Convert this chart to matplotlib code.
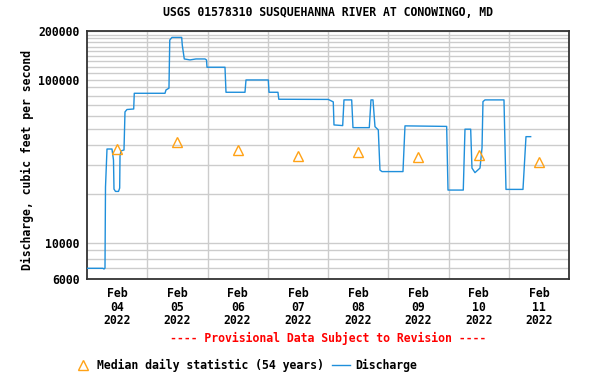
import numpy as np
import matplotlib
matplotlib.use("Agg")
import matplotlib.pyplot as plt
import matplotlib.dates as mdates
from matplotlib.ticker import FixedLocator, NullFormatter

# ---- data ----
start = np.datetime64("2022-02-04T00:00")

# discharge: hours since Feb 04 00:00 and cfs
q_hours = [0.0, 6.37, 6.77, 7.17, 7.37, 7.97, 9.96, 10.56, 10.76, 11.35, 12.55, 13.03,
           13.15, 13.54, 14.74, 15.14, 15.93, 18.60, 18.84, 31.07, 31.47, 32.66, 32.98,
           33.86, 37.72, 37.96, 38.76, 41.03, 43.42, 47.00, 47.60, 47.80, 54.97, 55.37,
           62.94, 63.34, 72.22, 72.50, 76.08, 76.40, 96.12, 98.11, 98.39, 101.86, 102.37,
           105.44, 105.96, 112.45, 113.13, 113.93, 114.72, 116.04, 116.71, 117.51, 125.88,
           126.67, 143.28, 143.80, 149.89, 150.57, 152.84, 153.36, 154.56, 156.55, 157.35,
           157.74, 158.54, 166.11, 166.91, 173.68, 174.87, 176.74]
q_values = [6980, 6980, 6910, 7000, 22000, 37700, 37700, 32300, 21400, 20700, 20700, 21700,
            34200, 36700, 37200, 63700, 65900, 66400, 82900, 82900, 86900, 89100, 176000,
            182700, 182700, 164000, 134700, 132900, 134700, 134700, 132900, 119800, 119800, 84100,
            84100, 100100, 100100, 84100, 84100, 76200, 76000, 73400, 53000, 52500, 75500,
            75500, 51000, 51000, 75500, 75500, 51700, 49400, 28000, 27400, 27400,
            52300, 51900, 21100, 21100, 49900, 49900, 28800, 27000, 28800, 38300,
            73700, 75500, 75500, 21300, 21300, 44900, 44900]

# median daily statistic, one per day (plotted at noon)
med_days = ["2022-02-04", "2022-02-05", "2022-02-06", "2022-02-07",
            "2022-02-08", "2022-02-09", "2022-02-10", "2022-02-11"]
med_values = [37600, 41800, 37200, 34300, 36300, 33600, 34800, 31300]

tick_labels = ["Feb\n04\n2022", "Feb\n05\n2022", "Feb\n06\n2022", "Feb\n07\n2022",
               "Feb\n08\n2022", "Feb\n09\n2022", "Feb\n10\n2022", "Feb\n11\n2022"]
y_major = [6000, 10000, 100000, 200000]
y_major_labels = ["6000", "10000", "100000", "200000"]

# ---- figure ----
FONT = "DejaVu Sans Mono"
FS = 8.3
W, H = 615, 379
fig = plt.figure(figsize=(W / 100, H / 100), dpi=100)
ax = fig.add_axes([87 / W, (H - 279) / H, 482 / W, 248 / H])

q_times = start + (np.array(q_hours) * 60).astype("timedelta64[m]")
med_times = np.array(med_days, dtype="datetime64[m]") + np.timedelta64(12 * 60, "m")

line_color = "#1f8fdb"
tri_color = "#ffa216"
ax.plot(q_times, q_values, color=line_color, lw=1.0, label="Discharge", zorder=3)
ax.plot(med_times, med_values, linestyle="none", marker="^", markersize=7,
        markerfacecolor="none", markeredgecolor=tri_color, markeredgewidth=1.0,
        label="Median daily statistic (54 years)", zorder=4)

ax.set_yscale("log")
ax.set_ylim(6000, 200000)
ax.set_xlim(start, start + np.timedelta64(8 * 24 * 60, "m"))

# y ticks / grid
minor_y = [v for v in list(range(6000, 10000, 1000)) + list(range(10000, 100000, 10000))
           + list(range(100000, 200001, 10000)) if v not in y_major]
ax.yaxis.set_major_locator(FixedLocator(y_major))
ax.yaxis.set_minor_locator(FixedLocator(minor_y))
ax.set_yticklabels(y_major_labels)
ax.yaxis.set_minor_formatter(NullFormatter())

# x ticks: labels at noon, gridlines at midnight
noon = [mdates.date2num(t) for t in med_times.astype("datetime64[s]").astype(object)]
midn = [mdates.date2num((start + np.timedelta64(d * 24 * 60, "m")).astype("datetime64[s]").astype(object))
        for d in range(1, 8)]
ax.xaxis.set_major_locator(FixedLocator(noon))
ax.set_xticklabels(tick_labels)
ax.xaxis.set_minor_locator(FixedLocator(midn))
ax.xaxis.set_minor_formatter(NullFormatter())

grid_kw = dict(color="#cccccc", lw=1.0)
ax.grid(True, which="minor", axis="both", **grid_kw)
ax.grid(True, which="major", axis="y", **grid_kw)
ax.grid(False, which="major", axis="x")
ax.set_axisbelow(True)

ax.tick_params(which="both", length=0)
ax.tick_params(axis="x", pad=6)
ax.tick_params(axis="y", pad=5.5)
for lab in ax.get_xticklabels():
    lab.set_fontfamily(FONT); lab.set_fontweight("bold"); lab.set_fontsize(FS)
    lab.set_linespacing(1.05)
for lab in ax.get_yticklabels():
    lab.set_fontfamily(FONT); lab.set_fontweight("bold"); lab.set_fontsize(FS)

for sp in ax.spines.values():
    sp.set_color("#333333")
    sp.set_linewidth(1.3)

ax.set_ylabel("Discharge, cubic feet per second", fontfamily=FONT, fontweight="bold",
              fontsize=FS)
ax.yaxis.set_label_coords(-53 / 482, (279 - 160) / 248)

fig.text(328 / W, 1 - 13 / H, "USGS 01578310 SUSQUEHANNA RIVER AT CONOWINGO, MD",
         ha="center", va="center", fontfamily=FONT, fontweight="bold", fontsize=FS)
fig.text(328 / W, 1 - 338 / H, "---- Provisional Data Subject to Revision ----",
         ha="center", va="center", fontfamily=FONT, fontweight="bold", fontsize=FS,
         color="#ff0000")

handles, labels = ax.get_legend_handles_labels()
order = [1, 0]
fig.legend([handles[i] for i in order], [labels[i] for i in order],
           loc="center left", bbox_to_anchor=(73.8 / W, 1 - 365 / H), ncol=2,
           frameon=False, borderaxespad=0, borderpad=0, handlelength=1.53,
           handletextpad=0.46, columnspacing=0.72,
           prop=dict(family=FONT, weight="bold", size=FS))

fig.savefig("out.png", dpi=100)
